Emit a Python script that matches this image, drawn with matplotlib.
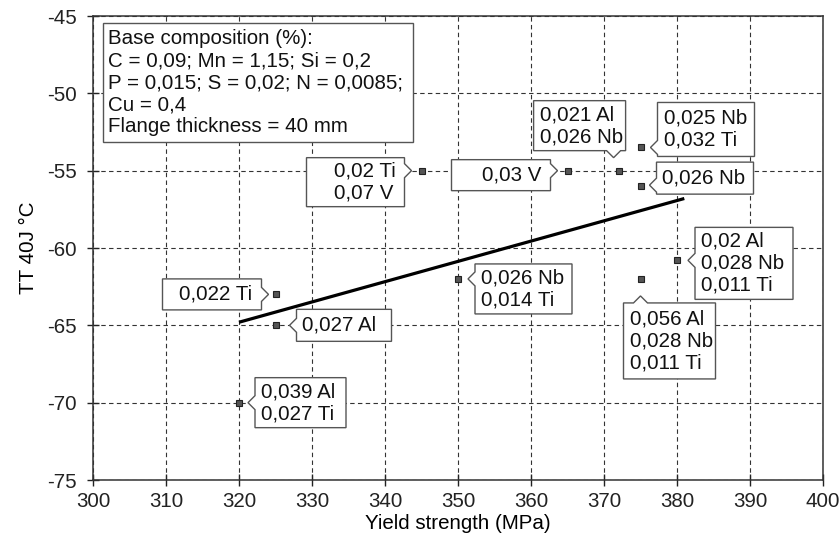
import matplotlib
matplotlib.use("Agg")
import matplotlib.pyplot as plt
from matplotlib.patches import Polygon, Rectangle
from matplotlib.transforms import IdentityTransform

plt.rcParams["font.family"] = ["Liberation Sans", "DejaVu Sans"]
plt.rcParams["axes.unicode_minus"] = False

# Yield strength (MPa) and 40 J transition temperature (°C) per steel variant
yield_strength = [320, 325, 325, 345, 365, 350, 372, 375, 375, 375, 380]
tt40j = [-70, -63, -65, -55, -55, -62, -55, -53.5, -56, -62, -60.8]
additions = [
    "0,039 Al\n0,027 Ti",
    "0,022 Ti",
    "0,027 Al",
    "0,02 Ti\n0,07 V",
    "0,03 V",
    "0,026 Nb\n0,014 Ti",
    "0,021 Al\n0,026 Nb",
    "0,025 Nb\n0,032 Ti",
    "0,026 Nb",
    "0,056 Al\n0,028 Nb\n0,011 Ti",
    "0,02 Al\n0,028 Nb\n0,011 Ti",
]

# Linear trend line end points
trend_x = [320, 381]
trend_y = [-64.8, -56.8]

x_ticks = list(range(300, 401, 10))
y_ticks = list(range(-75, -44, 5))

base_text = ("Base composition (%):\n"
             "C = 0,09; Mn = 1,15; Si = 0,2\n"
             "P = 0,015; S = 0,02; N = 0,0085;\n"
             "Cu = 0,4\n"
             "Flange thickness = 40 mm")

# Callout layout: box-centre offset from the marker (px, y downwards),
# box width/height (px) and the side carrying the pointer notch
callout_layout = [
    (61.5, 0, 91, 50, "left"),
    (-63.5, 0, 99, 31, "right"),
    (68.5, 0, 95, 32, "left"),
    (-66, 11.5, 98, 49, "right"),
    (-66.5, 4.5, 99, 31, "right"),
    (65.5, 10, 97, 50, "left"),
    (-39, -45, 92, 50, "bottom"),
    (65.5, -18, 97, 54, "left"),
    (64.5, -8, 97, 32, "left"),
    (29, 62, 92, 76, "top"),
    (67, 3, 98, 72, "left"),
]

W, H = 840, 543
FS = 14.8
LS = 1.2
fig = plt.figure(figsize=(W / 100, H / 100), dpi=100)
ax = fig.add_axes([93 / W, 1 - 480 / H, (823 - 93) / W, (480 - 16) / H])

ax.set_xlim(300, 400)
ax.set_ylim(-75, -45)
ax.set_xticks(x_ticks)
ax.set_yticks(y_ticks)
ax.tick_params(direction="inout", length=9, width=1, colors="#222222",
               labelsize=FS)
ax.tick_params(axis="y", pad=7)
ax.tick_params(axis="x", pad=4)
for s in ax.spines.values():
    s.set_color("#333333")
    s.set_linewidth(1.1)

ax.grid(True, color="#333333", linestyle=(0, (4, 3)), linewidth=0.8)
ax.set_axisbelow(True)

ax.set_xlabel("Yield strength (MPa)", fontsize=FS, labelpad=2)
ax.set_ylabel("TT 40J °C", fontsize=FS, labelpad=7)

ax.plot(trend_x, trend_y, color="black", linewidth=2.3, solid_capstyle="butt",
        zorder=3)
ax.plot(yield_strength, tt40j, linestyle="none", marker="s", markersize=5,
        markerfacecolor="#555555", markeredgecolor="#222222",
        markeredgewidth=0.8, zorder=4)

ident = IdentityTransform()
edge = "#555555"
notch_d, notch_h = 7, 7

for x, y, txt, (dx, dy, bw, bh, side) in zip(yield_strength, tt40j,
                                            additions, callout_layout):
    mx, my = ax.transData.transform((x, y))
    cx, cy = mx + dx, my - dy
    L, R = cx - bw / 2, cx + bw / 2
    B, T = cy - bh / 2, cy + bh / 2
    if side == "left":
        ny = min(max(my, B + 9), T - 9)
        pts = [(L, T), (R, T), (R, B), (L, B), (L, ny - notch_h),
               (L - notch_d, ny), (L, ny + notch_h)]
    elif side == "right":
        ny = min(max(my, B + 9), T - 9)
        pts = [(L, T), (R, T), (R, ny + notch_h), (R + notch_d, ny),
               (R, ny - notch_h), (R, B), (L, B)]
    elif side == "top":
        nx = min(max(mx, L + 12), R - 12)
        pts = [(L, T), (nx - notch_h, T), (nx, T + notch_d),
               (nx + notch_h, T), (R, T), (R, B), (L, B)]
    else:
        nx = min(max(mx, L + 12), R - 12)
        pts = [(L, T), (R, T), (R, B), (nx + notch_h, B), (nx, B - notch_d),
               (nx - notch_h, B), (L, B)]
    ax.add_patch(Polygon(pts, closed=True, facecolor="white", edgecolor=edge,
                         linewidth=1.0, transform=ident, zorder=5,
                         clip_on=False))
    if side == "right":
        ax.text(R - 9, cy, txt, transform=ident, ha="right", va="center",
                multialignment="left", fontsize=FS, color="#111111",
                linespacing=LS, zorder=6)
    else:
        ax.text(L + 6, cy, txt, transform=ident, ha="left", va="center",
                fontsize=FS, color="#111111", linespacing=LS, zorder=6)

# Base composition box
ax.add_patch(Rectangle((103, H - 142), 413 - 103, 142 - 23, facecolor="white",
                       edgecolor=edge, linewidth=1.0, transform=ident,
                       zorder=5, clip_on=False))
ax.text(108, H - 83, base_text, transform=ident, ha="left", va="center",
        fontsize=FS, color="#111111", linespacing=LS, zorder=6)

fig.savefig("out.png", dpi=100)
